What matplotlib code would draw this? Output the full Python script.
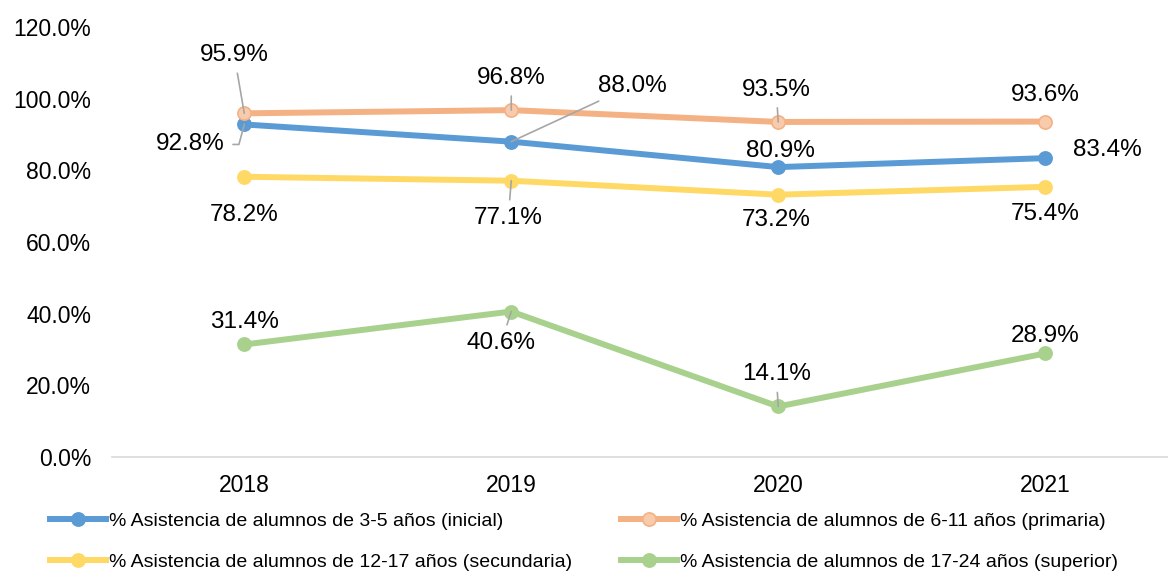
import matplotlib.pyplot as plt

plt.rcParams['font.family'] = ['Liberation Sans', 'DejaVu Sans']

# Data
years = ['2018', '2019', '2020', '2021']
inicial = [92.8, 88.0, 80.9, 83.4]
primaria = [95.9, 96.8, 93.5, 93.6]
secundaria = [78.2, 77.1, 73.2, 75.4]
superior = [31.4, 40.6, 14.1, 28.9]
names = ['% Asistencia de alumnos de 3-5 años (inicial)',
         '% Asistencia de alumnos de 6-11 años (primaria)',
         '% Asistencia de alumnos de 12-17 años (secundaria)',
         '% Asistencia de alumnos de 17-24 años (superior)']

# label offsets in pixels (dx, dy) and leader line style (None = no line)
offs = {
    0: [(-54, -20, 'elbow'), (121, 56, 'arc3'), (2, 16, None), (62, 8, None)],
    1: [(-10, 58, 'arc3'), (0, 32, 'arc3'), (-2, 32, 'arc3'), (0, 27, None)],
    2: [(0, -38, None), (-3, -37, 'arc3'), (-2, -25, None), (0, -27, None)],
    3: [(0, 22, None), (-10, -31, 'arc3'), (-2, 32, 'arc3'), (0, 17, None)],
}

fig = plt.figure(figsize=(11.68, 5.74), dpi=100)
ax = fig.add_axes([0.096, 0.2038, 0.904, 0.7492])

series = [inicial, primaria, secundaria, superior]
colors = ['#5B9BD5', '#F4B183', '#FFD966', '#A9D18E']
faces = ['#5B9BD5', '#F8CBAD', '#FFD966', '#A9D18E']
x = range(len(years))
lines = []
for k, vals in enumerate(series):
    ln, = ax.plot(x, vals, color=colors[k], lw=4.3, marker='o', markersize=9.5,
                  markerfacecolor=faces[k], markeredgecolor=colors[k],
                  markeredgewidth=1.2, label=names[k], zorder=3 + (k == 1))
    lines.append(ln)
    for i, v in enumerate(vals):
        dx, dy, lead = offs[k][i]
        ap = None
        if lead == 'arc3':
            ap = dict(arrowstyle='-', color='#A6A6A6', lw=1.2, shrinkA=3, shrinkB=0)
        elif lead == 'elbow':
            ap = dict(arrowstyle='-', color='#A6A6A6', lw=1.2, shrinkA=4, shrinkB=0,
                      connectionstyle='angle,angleA=0,angleB=75,rad=0')
        ax.annotate(f'{v:.1f}%', (i, v), xytext=(dx, dy), textcoords='offset pixels',
                    ha='center', va='center', fontsize=17.5, color='black',
                    arrowprops=ap, zorder=6)

ax.set_xlim(-0.495, 3.46)
ax.set_ylim(0, 120)
ax.set_yticks(range(0, 121, 20))
ax.set_yticklabels([f'{t:.1f}%' for t in range(0, 121, 20)])
ax.set_xticks(list(x))
ax.set_xticklabels(years)
ax.tick_params(axis='both', length=0, labelsize=16.5)
ax.tick_params(axis='y', pad=15)
ax.tick_params(axis='x', pad=12)
for s in ['top', 'right', 'left']:
    ax.spines[s].set_visible(False)
ax.spines['bottom'].set_color('#D9D9D9')
ax.spines['bottom'].set_linewidth(1.2)

# row-major order for a 2-column legend
order = [0, 2, 1, 3]
fig.legend([lines[i] for i in order], [names[i] for i in order],
           loc='upper left', bbox_to_anchor=(0.036, 0.121), ncol=2, frameon=False,
           fontsize=14, handlelength=2.9, handletextpad=0.15, columnspacing=2.5,
           labelspacing=1.2, borderaxespad=0)

fig.savefig('out.png', dpi=100)
